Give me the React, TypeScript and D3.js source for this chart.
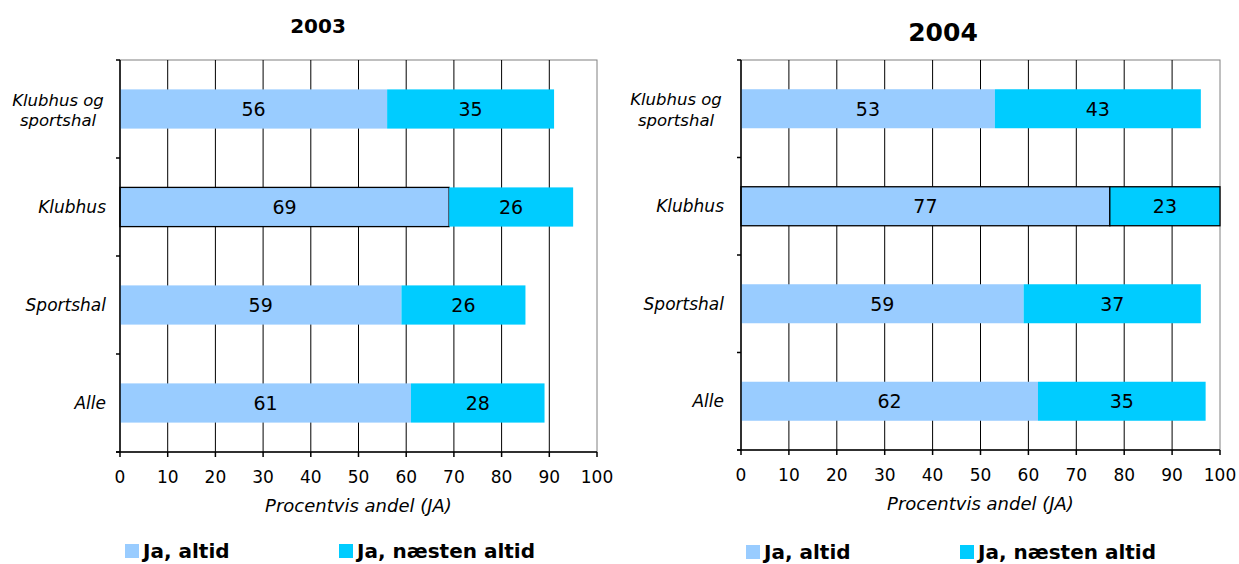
import React from "react";
import * as d3 from "d3";

const categories = ["Klubhus og sportshal", "Klubhus", "Sportshal", "Alle"];
const altid2003 = [56, 69, 59, 61];
const naesten2003 = [35, 26, 26, 28];
const altid2004 = [53, 77, 59, 62];
const naesten2004 = [43, 23, 37, 35];
const xTicks = [0, 10, 20, 30, 40, 50, 60, 70, 80, 90, 100];
const seriesNames = ["Ja, altid", "Ja, næsten altid"];
const colors = ["#99CCFF", "#00CCFF"];

const FONT = "'DejaVu Sans', Verdana, sans-serif";

type PanelProps = {
  title: string;
  titleX: number;
  titleY: number;
  titleSize: number;
  altid: number[];
  naesten: number[];
  left: number;
  right: number;
  top: number;
  bottom: number;
  labelX: number;
  legendY: number;
  outlined: "first" | "both";
};

const Panel = (p: PanelProps) => {
  const x = d3.scaleLinear().domain([0, 100]).range([p.left, p.right]);
  const y = d3.scaleBand().domain(categories).range([p.top, p.bottom]).paddingInner(0.6).paddingOuter(0.3);
  const bandEdges = d3.range(categories.length + 1).map((i) => p.top + ((p.bottom - p.top) / categories.length) * i);

  const stack = d3.stack<number>().keys(["0", "1"]).value((i, k) => (k === "0" ? p.altid[i] : p.naesten[i]));
  const series = stack(d3.range(categories.length));

  return (
    <g>
      <text x={p.titleX} y={p.titleY} textAnchor="middle" fontWeight="bold" fontSize={p.titleSize} fontFamily={FONT}>
        {p.title}
      </text>
      {/* plot border */}
      <rect x={p.left} y={p.top} width={p.right - p.left} height={p.bottom - p.top} fill="none" stroke="#808080" strokeWidth={1} />
      {/* gridlines */}
      {xTicks.slice(1, -1).map((t) => (
        <line key={t} x1={x(t)} x2={x(t)} y1={p.top} y2={p.bottom} stroke="#000" strokeWidth={1} />
      ))}
      {/* bars */}
      {series.map((s, si) =>
        s.map((d, i) => {
          const outline = categories[i] === "Klubhus" && (p.outlined === "both" || si === 0);
          return (
            <rect
              key={si + "-" + i}
              x={x(d[0])}
              y={y(categories[i])!}
              width={x(d[1]) - x(d[0])}
              height={y.bandwidth()}
              fill={colors[si]}
              stroke={outline ? "#000" : "none"}
              strokeWidth={outline ? 1.3 : 0}
            />
          );
        })
      )}
      {series.map((s, si) =>
        s.map((d, i) => (
          <text
            key={"l" + si + "-" + i}
            x={(x(d[0]) + x(d[1])) / 2}
            y={y(categories[i])! + y.bandwidth() / 2}
            dy="0.36em"
            textAnchor="middle"
            fontSize={19}
            fontFamily={FONT}
          >
            {si === 0 ? p.altid[i] : p.naesten[i]}
          </text>
        ))
      )}
      {/* y axis */}
      <line x1={p.left} x2={p.left} y1={p.top} y2={p.bottom} stroke="#000" strokeWidth={1.5} />
      {bandEdges.map((e, i) => (
        <line key={"yt" + i} x1={p.left - 4} x2={p.left} y1={e} y2={e} stroke="#000" strokeWidth={1.5} />
      ))}
      {/* x axis */}
      <line x1={p.left - 4} x2={p.right} y1={p.bottom} y2={p.bottom} stroke="#000" strokeWidth={1.5} />
      {xTicks.map((t) => (
        <g key={"xt" + t}>
          <line x1={x(t)} x2={x(t)} y1={p.bottom} y2={p.bottom + 5} stroke="#000" strokeWidth={1.5} />
          <text x={x(t)} y={p.bottom + 31} textAnchor="middle" fontSize={17} fontFamily={FONT}>
            {t}
          </text>
        </g>
      ))}
      <text x={(p.left + p.right) / 2} y={p.bottom + 60} textAnchor="middle" fontStyle="italic" fontSize={18} fontFamily={FONT}>
        Procentvis andel (JA)
      </text>
      {/* category labels */}
      {categories.map((c) => {
        const cy = y(c)! + y.bandwidth() / 2;
        if (c === "Klubhus og sportshal") {
          return (
            <text key={c} x={p.labelX - 48} y={cy} textAnchor="middle" fontStyle="italic" fontSize={16.5} fontFamily={FONT}>
              <tspan x={p.labelX - 48} dy="-0.2em">Klubhus og</tspan>
              <tspan x={p.labelX - 48} dy="1.25em">sportshal</tspan>
            </text>
          );
        }
        return (
          <text key={c} x={p.labelX} y={cy} dy="0.35em" textAnchor="end" fontStyle="italic" fontSize={17} fontFamily={FONT}>
            {c}
          </text>
        );
      })}
      {/* legend */}
      {seriesNames.map((n, i) => {
        const lx = p.left + 5 + i * 214;
        return (
          <g key={n}>
            <rect x={lx} y={p.legendY - 14} width={14} height={14} fill={colors[i]} />
            <text x={lx + 18} y={p.legendY} fontWeight="bold" fontSize={20} fontFamily={FONT}>
              {n}
            </text>
          </g>
        );
      })}
    </g>
  );
};

export default function App() {
  return (
    <svg width={1239} height={564} style={{ position: "absolute", left: 0, top: 0, background: "#fff" }}>
      <Panel
        title="2003"
        titleX={318}
        titleY={33}
        titleSize={20}
        altid={altid2003}
        naesten={naesten2003}
        left={120}
        right={597}
        top={60}
        bottom={452}
        labelX={106}
        legendY={558}
        outlined="first"
      />
      <Panel
        title="2004"
        titleX={943}
        titleY={41}
        titleSize={25}
        altid={altid2004}
        naesten={naesten2004}
        left={741}
        right={1220}
        top={60}
        bottom={450}
        labelX={724}
        legendY={559}
        outlined="both"
      />
    </svg>
  );
}
